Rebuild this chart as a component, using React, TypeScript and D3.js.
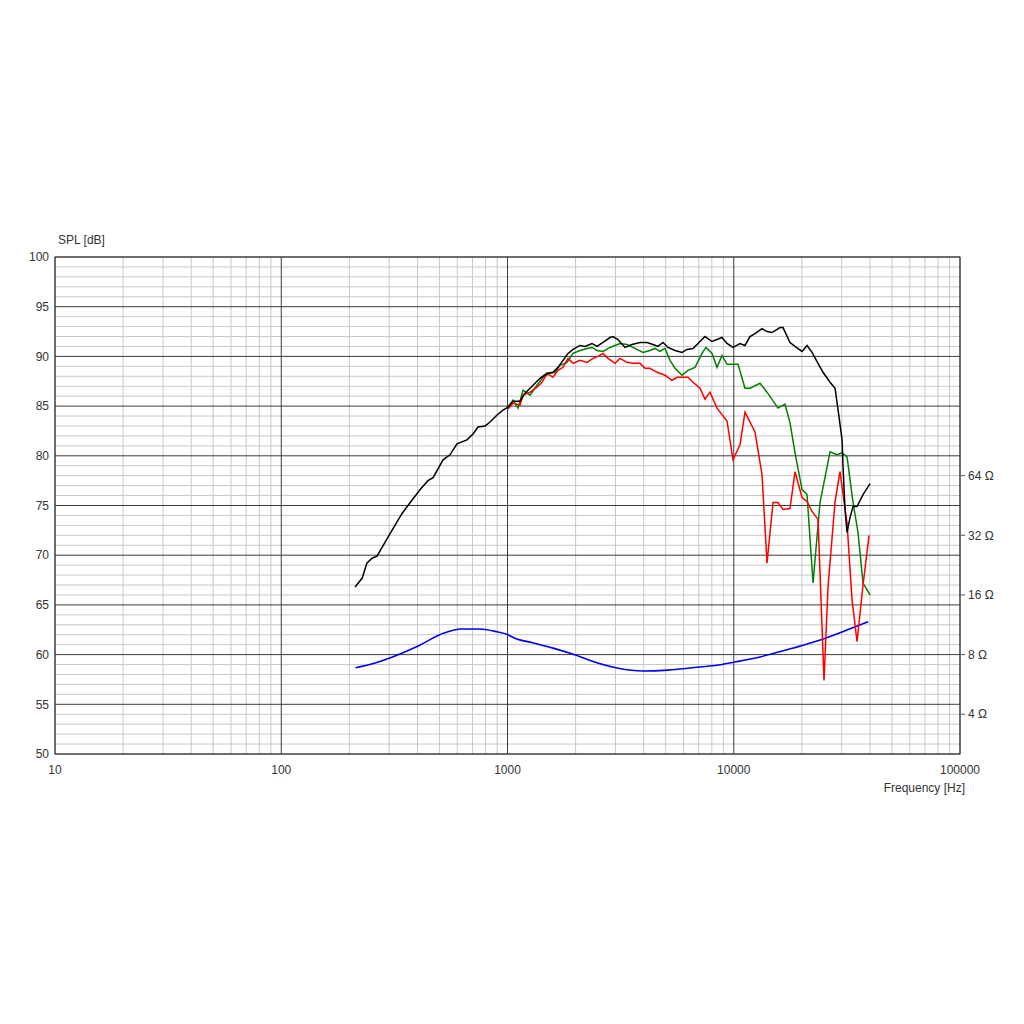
import React from "react";
import * as d3 from "d3";

// ---- Data ----
const splTicks = [50, 55, 60, 65, 70, 75, 80, 85, 90, 95, 100];
const freqTicks = [10, 100, 1000, 10000, 100000];
const freqTickLabels = ["10", "100", "1000", "10000", "100000"];
const ohmTicks = [4, 8, 16, 32, 64];
const ohmTickLabels = ["4 Ω", "8 Ω", "16 Ω", "32 Ω", "64 Ω"];

const blackFreq = [212, 228, 239, 252, 265, 303, 342, 363, 411, 445, 469, 519, 557, 598, 662, 704, 741, 796, 837, 899, 955, 1005, 1058, 1136, 1195, 1297, 1392, 1495, 1589, 1672, 1759, 1851, 1948, 2092, 2201, 2363, 2486, 2643, 2838, 2926, 3078, 3306, 3550, 3851, 4136, 4396, 4626, 4868, 5122, 5501, 5906, 6214, 6604, 7093, 7463, 8015, 8874, 9338, 9924, 10656, 11212, 11797, 12413, 13333, 14029, 14761, 16012, 16510, 17730, 18655, 20036, 21083, 22182, 23578, 24808, 26646, 28037, 29204, 30110, 30417, 31041, 31682, 32658, 33672, 35072, 37272, 40028];
const blackSpl = [66.8, 67.7, 69.2, 69.7, 69.9, 72.2, 74.2, 75.0, 76.6, 77.5, 77.8, 79.6, 80.1, 81.2, 81.6, 82.2, 82.9, 83.0, 83.4, 84.1, 84.6, 84.9, 85.5, 85.5, 86.3, 87.1, 87.8, 88.3, 88.4, 88.9, 89.6, 90.3, 90.7, 91.1, 91.0, 91.3, 91.0, 91.4, 91.9, 92.0, 91.7, 90.9, 91.2, 91.4, 91.4, 91.2, 91.0, 91.4, 90.9, 90.6, 90.4, 90.7, 90.8, 91.5, 92.0, 91.5, 91.9, 91.3, 90.9, 91.3, 91.1, 92.0, 92.3, 92.8, 92.5, 92.4, 92.9, 92.9, 91.4, 91.0, 90.5, 91.1, 90.4, 89.3, 88.4, 87.4, 86.8, 83.9, 81.6, 78.9, 74.5, 72.3, 73.8, 74.9, 74.9, 76.1, 77.2];

const greenFreq = [1005, 1058, 1113, 1171, 1258, 1350, 1435, 1541, 1622, 1706, 1832, 1948, 2092, 2246, 2363, 2486, 2643, 2838, 3142, 3375, 3660, 3971, 4264, 4487, 4721, 4968, 5227, 5501, 5906, 6278, 6742, 7239, 7540, 8015, 8433, 8874, 9338, 10443, 11212, 11797, 13062, 14029, 15690, 16847, 17730, 18655, 20036, 21083, 22409, 24058, 26646, 28604, 30110, 31682, 33672, 35416, 37272, 40028];
const greenSpl = [84.9, 85.6, 84.8, 86.6, 86.1, 87.1, 87.9, 88.3, 88.4, 89.1, 89.4, 90.3, 90.6, 90.8, 90.9, 90.6, 90.5, 90.9, 91.3, 91.2, 90.8, 90.4, 90.6, 90.8, 90.5, 90.8, 89.6, 88.8, 88.1, 88.6, 88.9, 90.3, 90.9, 90.3, 88.9, 90.1, 89.2, 89.2, 86.8, 86.8, 87.3, 86.4, 84.8, 85.2, 83.3, 80.3, 76.6, 76.1, 67.2, 75.3, 80.4, 80.1, 80.3, 79.9, 75.3, 72.3, 67.2, 66.0];

const redFreq = [1005, 1058, 1136, 1171, 1258, 1350, 1421, 1495, 1589, 1672, 1759, 1851, 1948, 2092, 2246, 2387, 2512, 2643, 2782, 2987, 3142, 3375, 3586, 3851, 4053, 4264, 4580, 4968, 5334, 5613, 5966, 6278, 6604, 7093, 7463, 7853, 8433, 9338, 9924, 10656, 11212, 12413, 13333, 14029, 14911, 15690, 16510, 17730, 18655, 20036, 21083, 22182, 23578, 25061, 26102, 28037, 29490, 31682, 33333, 35072, 37272, 39623];
const redSpl = [84.7, 85.3, 85.1, 86.1, 86.4, 86.9, 87.4, 88.3, 87.9, 88.6, 88.9, 89.8, 89.3, 89.6, 89.4, 89.8, 90.0, 90.3, 89.8, 89.3, 89.8, 89.4, 89.3, 89.3, 88.8, 88.8, 88.4, 88.1, 87.6, 87.9, 87.9, 87.9, 87.4, 86.8, 85.7, 86.4, 84.8, 83.5, 79.6, 81.1, 84.4, 82.4, 78.1, 69.2, 75.3, 75.3, 74.6, 74.7, 78.4, 75.8, 75.4, 74.4, 73.6, 57.4, 66.8, 75.4, 78.4, 73.2, 65.5, 61.3, 67.0, 72.0];

const impFreq = [213, 251, 312, 403, 520, 624, 748, 898, 1000, 1077, 1291, 1605, 1997, 2483, 3085, 3981, 5129, 6871, 8531, 10233, 13213, 17023, 20417, 25410, 31623, 39300];
const impOhm = [6.87, 7.17, 7.81, 8.85, 10.25, 10.78, 10.78, 10.43, 10.1, 9.67, 9.19, 8.6, 7.96, 7.27, 6.82, 6.61, 6.68, 6.9, 7.09, 7.36, 7.81, 8.44, 8.94, 9.67, 10.65, 11.73];

// ---- Layout ----
const W = 1024;
const H = 1024;
const left = 55;
const right = 960;
const top = 257;
const bottom = 754;

const x = d3.scaleLog().domain([10, 100000]).range([left, right]);
const y = d3.scaleLinear().domain([50, 100]).range([bottom, top]);
// impedance: 8 Ω at 60 dB, doubling every 6 dB
const zToDb = (z: number) => 60 + 6 * Math.log2(z / 8);
const yz = d3
  .scaleLog()
  .base(2)
  .domain([8 * Math.pow(2, -10 / 6), 8 * Math.pow(2, 40 / 6)])
  .range([bottom, top]);

const font = "Arial, 'Liberation Sans', sans-serif";
const textColor = "#333";

function series(fs: number[], vs: number[]) {
  return fs.map((f, i) => [f, vs[i]] as [number, number]);
}

const splLine = d3
  .line<[number, number]>()
  .x((d) => x(d[0]))
  .y((d) => y(d[1]));
const impLine = d3
  .line<[number, number]>()
  .x((d) => x(d[0]))
  .y((d) => yz(d[1]))
  .curve(d3.curveMonotoneX);

export default function App() {
  const minorV: number[] = [];
  for (let dec = 10; dec < 100000; dec *= 10) {
    for (let k = 2; k <= 9; k++) minorV.push(dec * k);
  }
  const minorH: number[] = d3.range(50, 101).filter((v) => v % 5 !== 0);

  return (
    <svg
      width={W}
      height={H}
      style={{ position: "absolute", left: 0, top: 0, background: "#fff" }}
      fontFamily={font}
    >
      <rect x={0} y={0} width={W} height={H} fill="#fff" />
      {/* minor grid */}
      {minorV.map((f) => (
        <line key={"mv" + f} x1={x(f)} x2={x(f)} y1={top} y2={bottom} stroke="#c8c8c8" strokeWidth={1} />
      ))}
      {minorH.map((v) => (
        <line key={"mh" + v} x1={left} x2={right} y1={y(v)} y2={y(v)} stroke="#c8c8c8" strokeWidth={1} />
      ))}
      {/* major grid */}
      {freqTicks.map((f) => (
        <line key={"Mv" + f} x1={x(f)} x2={x(f)} y1={top} y2={bottom} stroke="#3c3c3c" strokeWidth={1} />
      ))}
      {splTicks.map((v) => (
        <line key={"Mh" + v} x1={left} x2={right} y1={y(v)} y2={y(v)} stroke="#3c3c3c" strokeWidth={1} />
      ))}
      <rect x={left} y={top} width={right - left} height={bottom - top} fill="none" stroke="#3c3c3c" strokeWidth={1} />

      {/* left axis labels */}
      {splTicks.map((v) => (
        <text key={"lt" + v} x={left - 6} y={y(v)} dy="0.35em" textAnchor="end" fontSize={12} fill={textColor}>
          {v}
        </text>
      ))}
      <text x={58} y={244} fontSize={12} fill={textColor}>SPL [dB]</text>

      {/* bottom labels */}
      {freqTicks.map((f, i) => (
        <text key={"bt" + f} x={x(f)} y={774} textAnchor="middle" fontSize={12} fill={textColor}>
          {freqTickLabels[i]}
        </text>
      ))}
      <text x={965} y={792} textAnchor="end" fontSize={12} fill={textColor}>Frequency [Hz]</text>

      {/* right impedance axis */}
      {ohmTicks.map((z, i) => (
        <g key={"rt" + z}>
          <line x1={right + 1} x2={right + 5} y1={yz(z)} y2={yz(z)} stroke="#555" strokeWidth={1} />
          <text x={right + 8} y={yz(z)} dy="0.35em" fontSize={12} fill={textColor}>
            {ohmTickLabels[i]}
          </text>
        </g>
      ))}

      {/* curves */}
      <path d={impLine(series(impFreq, impOhm)) || ""} fill="none" stroke="#0000ee" strokeWidth={1.6} />
      <path d={splLine(series(greenFreq, greenSpl)) || ""} fill="none" stroke="#008000" strokeWidth={1.5} />
      <path d={splLine(series(redFreq, redSpl)) || ""} fill="none" stroke="#ff0000" strokeWidth={1.5} />
      <path d={splLine(series(blackFreq, blackSpl)) || ""} fill="none" stroke="#000" strokeWidth={1.5} />
    </svg>
  );
}

void zToDb;
